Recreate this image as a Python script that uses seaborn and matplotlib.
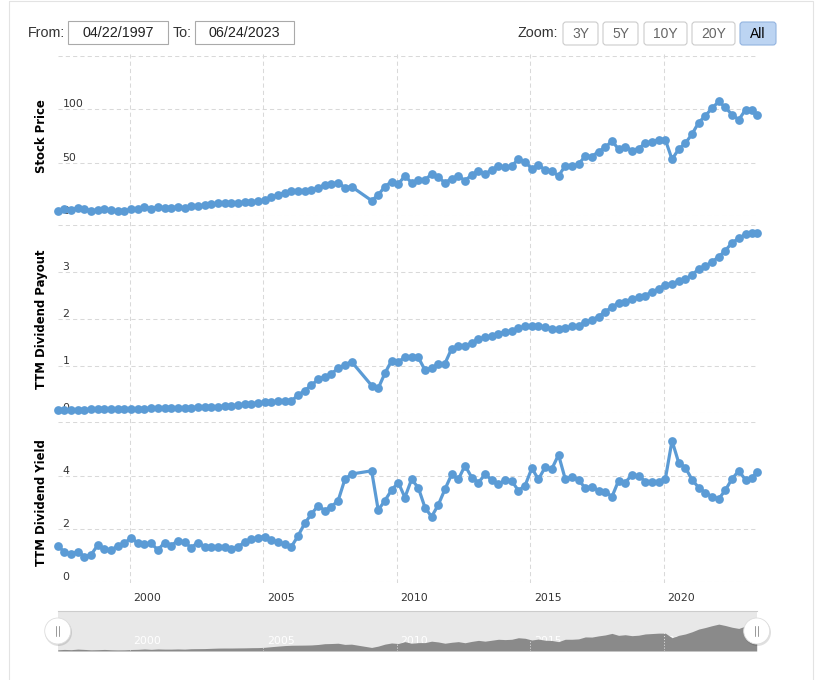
import pandas as pd
import seaborn as sns
import matplotlib.pyplot as plt
from matplotlib.patches import Rectangle, FancyBboxPatch, Circle
from matplotlib.transforms import Affine2D, ScaledTranslation

# quarterly samples from 04/22/1997, two quarters missing in 2008, last point 06/24/2023
quarters = pd.date_range("1997-04-22", periods=105, freq=pd.DateOffset(months=3))
dates = list(quarters[:45]) + list(quarters[47:]) + [pd.Timestamp("2023-06-24")]

stock_price = [
    4.7, 6.3, 5.3, 7.5, 6.3, 4.7, 5.3, 6.3, 5.0, 4.4,
    4.7, 6.0, 6.6, 8.2, 6.6, 8.2, 7.5, 7.5, 8.2, 7.5,
    9.1, 9.4, 9.7, 10.7, 11.6, 11.9, 11.9, 12.3, 12.6, 13.2,
    13.5, 14.8, 17.3, 19.5, 21.7, 23.0, 23.3, 23.6, 24.2, 26.1,
    29.2, 29.9, 31.1, 26.4, 27.4,
    14.2, 19.5, 27.4, 32.1, 29.9, 37.4, 31.1, 33.6, 33.6, 39.3,
    36.2, 31.1, 34.9, 37.4, 33.0, 38.4, 42.5, 39.3, 43.1, 46.9,
    45.6, 46.9, 53.1, 50.9, 44.0, 47.8, 43.1, 42.1, 37.4, 46.9,
    46.9, 48.4, 56.3, 55.7, 60.4, 64.2, 70.4, 62.6, 65.1, 61.3,
    63.2, 68.2, 69.8, 71.4, 71.4, 53.1, 62.6, 68.2, 77.0, 87.7,
    94.0, 101.3, 107.5, 101.9, 95.0, 90.3, 99.7, 99.7,
    94.3,
]

ttm_payout = [
    0.065, 0.065, 0.066, 0.067, 0.068, 0.070, 0.072, 0.074, 0.076, 0.078,
    0.080, 0.083, 0.086, 0.089, 0.092, 0.095, 0.098, 0.100, 0.103, 0.106,
    0.110, 0.115, 0.120, 0.125, 0.130, 0.140, 0.150, 0.160, 0.180, 0.190,
    0.210, 0.220, 0.230, 0.240, 0.245, 0.250, 0.377, 0.470, 0.590, 0.710,
    0.77, 0.83, 0.95, 1.02, 1.09,
    0.58, 0.52, 0.84, 1.11, 1.09, 1.18, 1.18, 1.18, 0.91, 0.96,
    1.03, 1.05, 1.37, 1.42, 1.42, 1.49, 1.57, 1.61, 1.64, 1.69,
    1.72, 1.75, 1.80, 1.84, 1.84, 1.85, 1.82, 1.79, 1.78, 1.80,
    1.84, 1.85, 1.94, 1.98, 2.05, 2.16, 2.25, 2.35, 2.37, 2.43,
    2.46, 2.50, 2.58, 2.64, 2.73, 2.75, 2.81, 2.85, 2.94, 3.07,
    3.13, 3.22, 3.33, 3.46, 3.63, 3.72, 3.81, 3.84,
    3.84,
]

ttm_yield = [
    1.38, 1.13, 1.05, 1.15, 0.96, 1.03, 1.40, 1.24, 1.21, 1.36,
    1.46, 1.68, 1.46, 1.43, 1.46, 1.21, 1.49, 1.38, 1.56, 1.50,
    1.30, 1.49, 1.34, 1.34, 1.34, 1.34, 1.24, 1.34, 1.50, 1.61,
    1.68, 1.71, 1.59, 1.50, 1.43, 1.34, 1.74, 2.21, 2.56, 2.88,
    2.69, 2.84, 3.06, 3.86, 4.06,
    4.18, 2.71, 3.06, 3.46, 3.74, 3.18, 3.86, 3.55, 2.80, 2.46,
    2.90, 3.49, 4.05, 3.86, 4.38, 3.93, 3.74, 4.05, 3.84, 3.68,
    3.84, 3.80, 3.44, 3.63, 4.28, 3.86, 4.31, 4.25, 4.78, 3.88,
    3.96, 3.84, 3.53, 3.59, 3.44, 3.40, 3.21, 3.81, 3.74, 4.03,
    3.99, 3.78, 3.78, 3.78, 3.88, 5.31, 4.49, 4.30, 3.84, 3.55,
    3.36, 3.21, 3.13, 3.46, 3.88, 4.18, 3.84, 3.90,
    4.15,
]

year_labels = ["2000", "2005", "2010", "2015", "2020"]
year_ticks = [pd.Timestamp(y + "-01-01") for y in year_labels]
zoom_buttons = ["3Y", "5Y", "10Y", "20Y", "All"]
from_date, to_date = "04/22/1997", "06/24/2023"

BLUE = "#5b9bd5"
GRID = "#d9d9d9"
W, H = 827, 680

sns.set_theme(style="white")
plt.rcParams["font.family"] = ["DejaVu Sans"]
fig = plt.figure(figsize=(W / 100, H / 100), dpi=100)
# pixel coords, origin top-left
px = Affine2D().scale(1 / W, -1 / H).translate(0, 1) + fig.transFigure


def box(x0, y0, x1, y1):
    return [x0 / W, 1 - y1 / H, (x1 - x0) / W, (y1 - y0) / H]


X0, X1 = 57.7, 756.7
xlim = (dates[0], dates[-1])

# vertical grid running through all three panes
grid_ax = fig.add_axes(box(X0, 54, X1, 583))
grid_ax.set_xlim(xlim)
for t in year_ticks:
    grid_ax.axvline(t, color=GRID, lw=0.75, ls=(0, (4, 3)))
grid_ax.set_axis_off()

panes = [
    (box(X0, 56.3, X1, 215.7), stock_price, [0, 50, 100, 150], "Stock Price"),
    (box(X0, 225.3, X1, 412.7), ttm_payout, [0, 1, 2, 3, 4], "TTM Dividend Payout"),
    (box(X0, 422.3, X1, 582.3), ttm_yield, [0, 2, 4, 6], "TTM Dividend Yield"),
]
axes = []
for rect, values, ticks, label in panes:
    ax = fig.add_axes(rect)
    ax.set_facecolor("none")
    sns.lineplot(x=dates, y=values, ax=ax, color=BLUE, lw=2.3, marker="o", ms=6.3,
                 mew=0, clip_on=False, zorder=5)
    ax.set_xlim(xlim)
    ax.set_ylim(ticks[0], ticks[-1])
    ax.set_yticks(ticks)
    ax.set_yticklabels([f"{t:g}" for t in ticks[:-1]] + [""])
    ax.tick_params(axis="y", length=0, pad=-3.3, labelsize=7.8, labelcolor="#333333")
    plt.setp(ax.get_yticklabels(), ha="left", va="bottom")
    ax.set_xticks([])
    ax.grid(axis="y", color=GRID, lw=0.75, ls=(0, (4, 3)))
    ax.grid(axis="x", visible=False)
    for s in ax.spines.values():
        s.set_visible(False)
    ax.set_ylabel(label, fontsize=8.4, fontweight="bold", color="#000000")
    ax.yaxis.set_label_coords(-0.0136, 0.5)
    axes.append(ax)

# year labels below the last pane
ax_yld = axes[-1]
ax_yld.set_xticks(year_ticks)
ax_yld.set_xticklabels(year_labels)
ax_yld.tick_params(axis="x", length=0, pad=7.5, labelsize=7.8, labelcolor="#333333")
shift = ScaledTranslation(2.5 / 72, 0, fig.dpi_scale_trans)
for lbl in ax_yld.get_xticklabels():
    lbl.set_ha("left")
    lbl.set_transform(lbl.get_transform() + shift)

# navigator
ax_nav = fig.add_axes(box(X0, 611, X1, 651))
ax_nav.set_facecolor("#e8e8e8")
ax_nav.fill_between(dates, stock_price, color="#8a8a8a", lw=0, zorder=2)
for t in year_ticks:
    ax_nav.axvline(t, color="#e8e8e8", lw=0.7, ls=(0, (1, 2)), zorder=3)
ax_nav.set_xlim(xlim)
ax_nav.set_ylim(0, 160)
ax_nav.set_yticks([])
ax_nav.set_xticks(year_ticks)
ax_nav.set_xticklabels(year_labels)
ax_nav.tick_params(axis="x", length=0, pad=-10.5, labelsize=7.8, labelcolor="white")
for lbl in ax_nav.get_xticklabels():
    lbl.set_ha("left")
    lbl.set_transform(lbl.get_transform() + shift)
for name, s in ax_nav.spines.items():
    s.set_visible(name == "top")
ax_nav.spines["top"].set_color("#cccccc")
ax_nav.spines["top"].set_linewidth(0.8)

# navigator handles
for hx in (X0, X1):
    fig.add_artist(Circle((hx + 0.8, 632.5), 13.5, transform=px, color="#000000", alpha=0.12, lw=0))
    fig.add_artist(Circle((hx, 631), 13, transform=px, facecolor="white", edgecolor="#dddddd", lw=0.6))
    for dx in (-1.5, 1.5):
        fig.add_artist(plt.Line2D([hx + dx, hx + dx], [626, 636], transform=px, color="#999999", lw=0.7))

# outer frame
fig.add_artist(Rectangle((8.5, 0.5), 804, 690, transform=px, fill=False, edgecolor="#e3e3e3", lw=0.8))

# range selector
ui_font = ["Liberation Sans", "DejaVu Sans"]
fig.text(28, 33, "From:", transform=px, family=ui_font, fontsize=10.3, color="#333333", va="center")
fig.text(173, 33, "To:", transform=px, family=ui_font, fontsize=10.3, color="#333333", va="center")
for (bx0, bx1), txt in [((68.3, 167.7), from_date), ((195, 294.3), to_date)]:
    fig.add_artist(Rectangle((bx0, 21), bx1 - bx0, 23.3, transform=px, fill=False,
                             edgecolor="#aaaaaa", lw=0.8))
    fig.text((bx0 + bx1) / 2, 33, txt, transform=px, family=ui_font, fontsize=10.3,
             color="#222222", ha="center", va="center")

fig.text(558, 33, "Zoom:", transform=px, family=ui_font, fontsize=10.3, color="#333333",
         ha="right", va="center")
button_x = [(563, 598), (603, 638), (644, 687), (692, 735), (740, 776)]
for (bx0, bx1), txt in zip(button_x, zoom_buttons):
    active = txt == "All"
    fig.add_artist(FancyBboxPatch((bx0, 22), bx1 - bx0, 23, boxstyle="round,pad=0,rounding_size=3",
                                  transform=px, facecolor="#bcd4f2" if active else "white",
                                  edgecolor="#93b4e0" if active else "#cccccc", lw=0.8))
    fig.text((bx0 + bx1) / 2, 34, txt, transform=px, family=ui_font, fontsize=10,
             color="#000000" if active else "#666666", ha="center", va="center")

fig.savefig("out.png", dpi=100)
